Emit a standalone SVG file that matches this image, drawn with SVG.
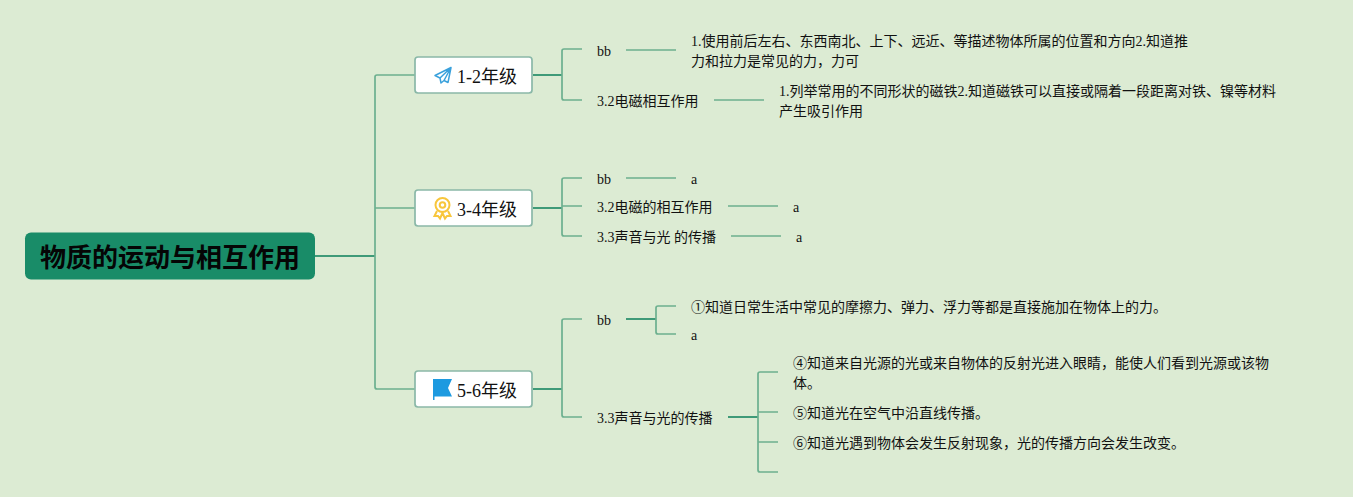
<svg xmlns="http://www.w3.org/2000/svg" width="1353" height="497" viewBox="0 0 1353 497">
<style>
text{font-family:"Liberation Serif","Noto Sans CJK SC",sans-serif;fill:#111}
.s{font-size:14px}
.m{font-size:18px}
.r{font-size:26px;font-weight:700;font-family:"Liberation Sans","Noto Sans CJK SC",sans-serif;fill:#050505}
.b{fill:#fff;stroke:#8ab8a8;stroke-width:1.7}
.l{fill:none;stroke:#6cb08f;stroke-width:1.7;stroke-linejoin:round}
.d{fill:none;stroke:#3f9a78;stroke-width:2}
</style>
<rect width="1353" height="497" fill="#dcebd3"/>
<g id="connectors">
<path class="d" d="M315 256H375"/>
<path class="l" d="M415 75H377Q375 75 375 77V387Q375 389 377 389H415M375 208H415"/>
<path class="d" d="M533 75H562M533 208H562M533 389H562"/>
<path class="l" d="M582 49H564Q562 49 562 51V98Q562 100 564 100H582"/>
<path class="l" d="M582 178H564Q562 178 562 180V234Q562 236 564 236H582M562 206H582"/>
<path class="l" d="M582 319H564Q562 319 562 321V415Q562 417 564 417H582"/>
<path class="l" d="M626 50H676M714 100H764M626 178H676M728 206H778M731 236H781"/>
<path class="d" d="M626 319H656M728 417H758"/>
<path class="l" d="M676 306H658Q656 306 656 308V332Q656 334 658 334H676"/>
<path class="l" d="M778 372H760Q758 372 758 374V470Q758 472 760 472H778M758 412H778M758 442H778"/>
</g>
<g id="root"><rect x="25" y="232.500" width="290" height="47" rx="6" fill="#198c68"/><text class="r" x="170" y="267" text-anchor="middle">物质的运动与相互作用</text></g>
<g id="n12"><rect class="b" x="415" y="57" width="117" height="36" rx="3"/>
<path d="M451 67.500L435 75.500L440 78L441 83L444 80.500L448 82.500ZM451 67.500L440 78M451 67.500L444 80.500" fill="none" stroke="#3aa1dc" stroke-width="1.500" stroke-linejoin="round"/>
<text class="m" x="457" y="83">1-2年级</text></g>
<g id="n34"><rect class="b" x="415" y="190" width="117" height="36" rx="3"/>
<g fill="none" stroke="#f8c63c" stroke-width="2"><circle cx="442.500" cy="205" r="7"/><circle cx="442.500" cy="205" r="2.800"/><path d="M437 211L434.500 216L438 216L440 218.500L442.500 213L445 218.500L447 216L450.500 216L448 211"/></g>
<text class="m" x="457" y="216">3-4年级</text></g>
<g id="n56"><rect class="b" x="415" y="371" width="117" height="36" rx="3"/>
<path d="M433 379H452L448 388L452 396.500H434.500V400H433Z" fill="#1d9ae0"/>
<text class="m" x="457" y="397">5-6年级</text></g>
<g id="a1"><text class="s" x="597" y="56">bb</text></g>
<g id="a1t"><text class="s" x="691" y="46">1.使用前后左右、东西南北、上下、远近、等描述物体所属的位置和方向2.知道推</text><text class="s" x="691" y="66">力和拉力是常见的力，力可</text></g>
<g id="a2"><text class="s" x="597" y="106">3.2电磁相互作用</text></g>
<g id="a2t"><text class="s" x="779" y="96">1.列举常用的不同形状的磁铁2.知道磁铁可以直接或隔着一段距离对铁、镍等材料</text><text class="s" x="779" y="116">产生吸引作用</text></g>
<g id="b1"><text class="s" x="597" y="184">bb</text></g>
<g id="b1t"><text class="s" x="691" y="184">a</text></g>
<g id="b2"><text class="s" x="597" y="212">3.2电磁的相互作用</text></g>
<g id="b2t"><text class="s" x="793" y="212">a</text></g>
<g id="b3"><text class="s" x="597" y="242">3.3声音与光 的传播</text></g>
<g id="b3t"><text class="s" x="796" y="242">a</text></g>
<g id="c1"><text class="s" x="597" y="325">bb</text></g>
<g id="c1a"><text class="s" x="691" y="312">①知道日常生活中常见的摩擦力、弹力、浮力等都是直接施加在物体上的力。</text></g>
<g id="c1b"><text class="s" x="691" y="340">a</text></g>
<g id="c2"><text class="s" x="597" y="423">3.3声音与光的传播</text></g>
<g id="c2a"><text class="s" x="793" y="368">④知道来自光源的光或来自物体的反射光进入眼睛，能使人们看到光源或该物</text><text class="s" x="793" y="388">体。</text></g>
<g id="c2b"><text class="s" x="793" y="418">⑤知道光在空气中沿直线传播。</text></g>
<g id="c2c"><text class="s" x="793" y="448">⑥知道光遇到物体会发生反射现象，光的传播方向会发生改变。</text></g>
</svg>
